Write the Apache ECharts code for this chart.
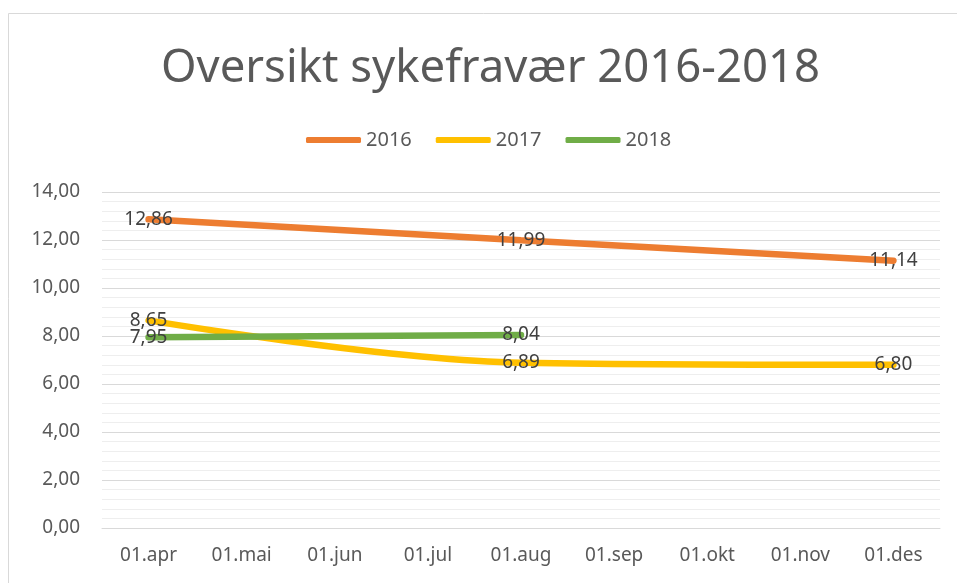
<!DOCTYPE html>
<html><head><meta charset="utf-8">
<script src="https://cdn.jsdelivr.net/npm/echarts@6/dist/echarts.min.js"></script>
<style>html,body{margin:0;padding:0;background:#fff}#c{width:957px;height:583px}</style>
</head><body><div id="c"></div>
<script>
const categories = ['01.apr','01.mai','01.jun','01.jul','01.aug','01.sep','01.okt','01.nov','01.des'];
const s2016 = [12.86, null, null, null, 11.99, null, null, null, 11.14];
const s2017 = [8.65, null, null, null, 6.89, null, null, null, 6.80];
const s2018 = [7.95, null, null, null, 8.04, null, null, null, null];
const seriesNames = ['2016','2017','2018'];
const colors = ['#ED7D31','#FFC000','#70AD47'];

const FONT = 'Noto Sans';
const fmt = v => v.toFixed(2).replace('.', ',');
function mk(name, data, color) {
  return {
    name, type: 'line', data, connectNulls: true, smooth: 0.35,
    symbol: 'circle', symbolSize: 1,
    itemStyle: { color },
    lineStyle: { width: 6.5, color, cap: 'round' },
    label: { show: true, position: 'inside', color: '#404040', fontFamily: FONT, fontSize: 19,
      formatter: p => fmt(p.value) },
    emphasis: { disabled: true },
    z: 3
  };
}
const chart = echarts.init(document.getElementById('c'), null, { renderer: 'canvas' });
chart.setOption({
  animation: false,
  backgroundColor: '#fff',
  color: colors,
  title: { text: 'Oversikt sykefravær 2016-2018', left: 156, top: 41,
    textStyle: { fontFamily: FONT, fontSize: 45.5, fontWeight: 'normal', color: '#595959' } },
  legend: { top: 125, left: 301, icon: 'roundRect', itemWidth: 55, itemHeight: 6, itemGap: 24,
    textStyle: { fontFamily: FONT, fontSize: 20, color: '#595959', padding: [0,0,0,0] } },
  graphic: [{ type: 'rect', shape: { x: 8.5, y: 13.5, width: 1000, height: 700 },
    style: { fill: 'none', stroke: '#d9d9d9', lineWidth: 1 }, z: -1 }],
  grid: { left: 102, top: 192, width: 838, height: 336, containLabel: false },
  xAxis: { type: 'category', data: categories, boundaryGap: true,
    axisLine: { show: true, lineStyle: { color: '#d9d9d9', width: 1 } },
    axisTick: { show: false },
    axisLabel: { fontFamily: FONT, fontSize: 19, color: '#595959', margin: 18 } },
  yAxis: { type: 'value', min: 0, max: 14, interval: 2,
    axisLine: { show: false }, axisTick: { show: false },
    axisLabel: { fontFamily: FONT, fontSize: 19, color: '#595959', margin: 22, formatter: v => fmt(v) },
    splitLine: { lineStyle: { color: '#d9d9d9', width: 1 } },
    minorTick: { show: false, splitNumber: 5 },
    minorSplitLine: { show: true, lineStyle: { color: '#eeeeee', width: 1 } } },
  series: [mk(seriesNames[0], s2016, colors[0]), mk(seriesNames[1], s2017, colors[1]), mk(seriesNames[2], s2018, colors[2])]
});
</script></body></html>
